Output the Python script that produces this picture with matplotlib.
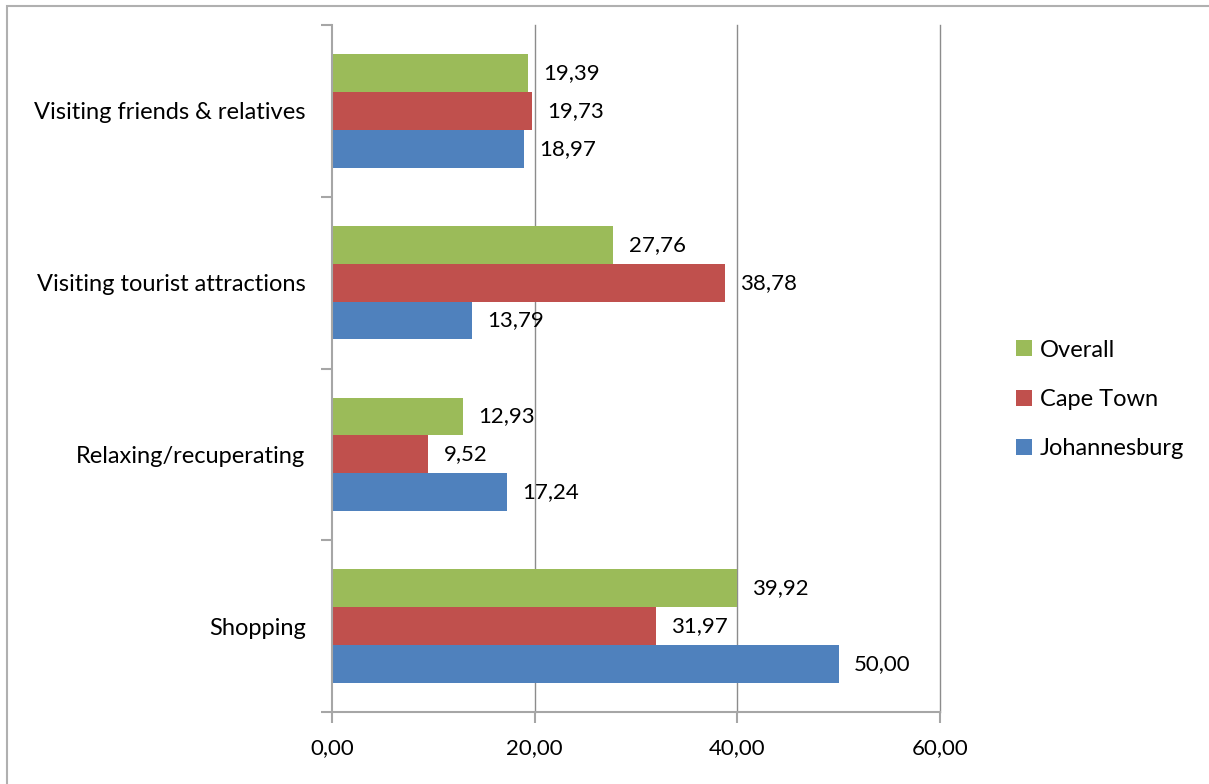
import numpy as np
import matplotlib.pyplot as plt
from matplotlib.patches import Rectangle

plt.rcParams['font.family'] = ['Lato', 'DejaVu Sans']

# 数据（从下往上）
categories = ["Shopping", "Relaxing/recuperating",
              "Visiting tourist attractions", "Visiting friends & relatives"]
johannesburg = [50.00, 17.24, 13.79, 18.97]
cape_town = [31.97, 9.52, 38.78, 19.73]
overall = [39.92, 12.93, 27.76, 19.39]

x_ticks = [0, 20, 40, 60]

c_green = "#9BBB59"
c_red = "#C0504D"
c_blue = "#4F81BD"
c_axis = "#A6A6A6"


def fmt(v):
    # 逗号作小数点
    return "{:.2f}".format(v).replace(".", ",")


fig = plt.figure(figsize=(12.09, 7.84), dpi=100)
ax = fig.add_axes([332 / 1209, 1 - 712 / 784, 608 / 1209, 687 / 784])

# 外边框
fig.patches.append(Rectangle((7 / 1209, -0.1), 1.2, 1 - 6 / 784 + 0.1,
                             transform=fig.transFigure, fill=False,
                             edgecolor="#B0B0B0", linewidth=1.5))

y = np.arange(len(categories))
h = 0.22
series = [(johannesburg, c_blue, "Johannesburg", -h),
          (cape_town, c_red, "Cape Town", 0),
          (overall, c_green, "Overall", h)]

for vals, col, name, off in series:
    ax.barh(y + off, vals, height=h, color=col, label=name, zorder=3)
    for yi, v in zip(y, vals):
        ax.text(v + 1.5, yi + off, fmt(v), va="center", ha="left",
                fontsize=16, color="black", zorder=4)

ax.set_xlim(0, 60)
ax.set_ylim(-0.5, len(categories) - 0.5)
ax.set_xticks(x_ticks)
ax.set_xticklabels([fmt(t) for t in x_ticks], fontsize=16)
ax.set_yticks(np.arange(len(categories) + 1) - 0.5, minor=False)
ax.set_yticklabels([])
ax.set_yticks(y, minor=True)
ax.set_yticklabels(categories, minor=True, fontsize=17)
ax.tick_params(axis="y", which="minor", length=0, pad=19)
ax.tick_params(axis="y", which="major", length=8, color=c_axis, width=1.5)
ax.tick_params(axis="x", length=8, color=c_axis, width=1.5, pad=11)

# 竖向网格线
for t in x_ticks[1:]:
    ax.axvline(t, color="#8C8C8C", linewidth=1, zorder=0, clip_on=False)
for s in ["top", "right"]:
    ax.spines[s].set_visible(False)
for s in ["left", "bottom"]:
    ax.spines[s].set_color(c_axis)
    ax.spines[s].set_linewidth(1.5)
    ax.spines[s].set_zorder(5)

handles, labels = ax.get_legend_handles_labels()
ax.legend(handles[::-1], labels[::-1], loc="center left",
          bbox_to_anchor=(1.11, 0.455), frameon=False, fontsize=17,
          handlelength=0.65, handleheight=0.65, handletextpad=0.35,
          labelspacing=1.2, borderaxespad=0)

fig.savefig("out.png", dpi=100)
